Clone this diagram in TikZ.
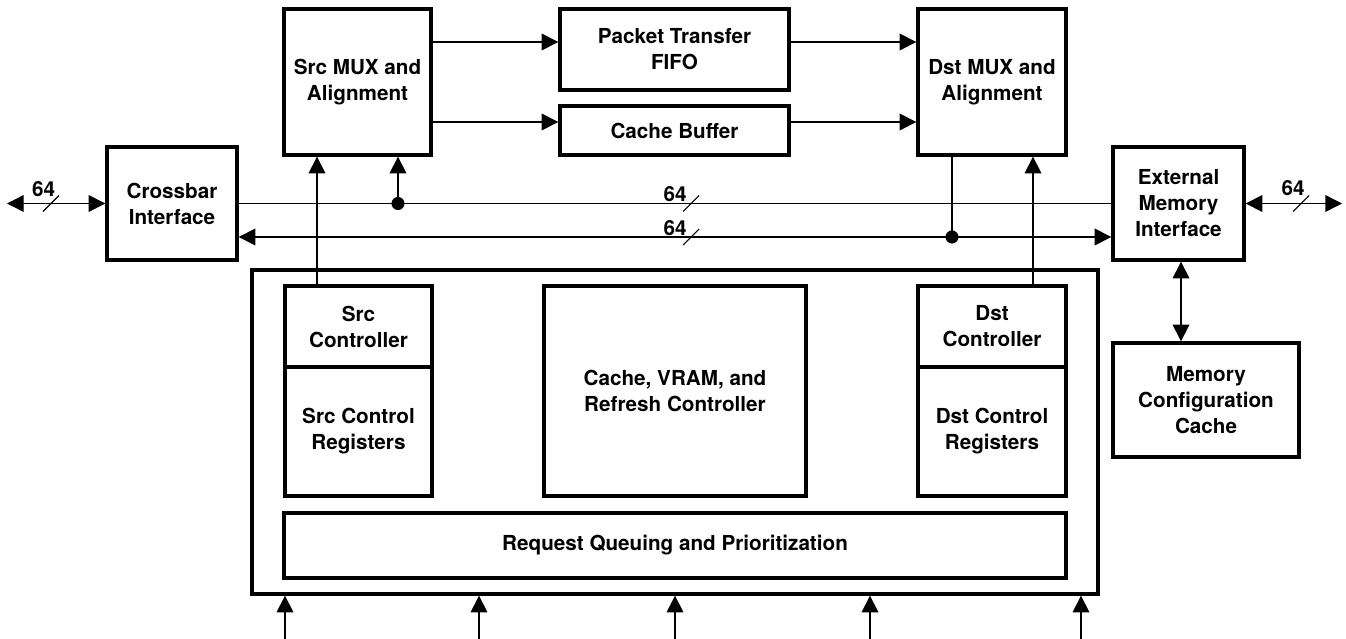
\documentclass[tikz,border=0pt]{standalone}
\usepackage{fontspec}
\setmainfont{TeX Gyre Heros}
\usetikzlibrary{arrows.meta}

% box given by its outline corners (x1,y1) and (x2,y2), in pixel units
\newcommand\mkbox[6]{%
  \node[blk, minimum width={(#4-#2)*0.75pt}, minimum height={(#5-#3)*0.75pt}]
    (#1) at ({(#2+#4)/2},{(#3+#5)/2}) {#6};}

\tikzset{
  blk/.style={draw, line width=2.5pt, inner sep=0pt, align=center,
    font=\fontsize{15.5pt}{19.5pt}\selectfont\bfseries},
  wire/.style={line width=1pt},
  arr/.style={wire, -{Triangle[length=12.5pt,width=12.5pt]}},
  darr/.style={wire, {Triangle[length=12.5pt,width=12.5pt]}-{Triangle[length=12.5pt,width=12.5pt]}},
  buslabel/.style={font=\fontsize{15.5pt}{19.5pt}\selectfont\bfseries, inner sep=0pt},
  slash/.style={line width=0.8pt},
  dot/.style={fill=black},
}

\begin{document}
\begin{tikzpicture}[x=0.75pt, y=-0.75pt]
\useasboundingbox (0,0) rectangle (1346,639);

% top row
\mkbox{srcmux}{284}{9}{431}{155}{Src MUX and\\Alignment}
\mkbox{fifo}{560}{9}{789}{90}{Packet Transfer\\FIFO}
\mkbox{cbuf}{560}{106}{789}{155}{Cache Buffer}
\mkbox{dstmux}{918}{9}{1066}{155}{Dst MUX and\\Alignment}

% interfaces
\mkbox{xbar}{107}{147}{237}{260}{Crossbar\\Interface}
\mkbox{emi}{1113}{147}{1244}{260}{External\\Memory\\Interface}
\mkbox{mcc}{1113}{343}{1299}{457}{Memory\\Configuration\\Cache}

% controller block
\mkbox{big}{252}{270}{1098}{594}{}
\mkbox{srcctl}{285}{286}{432}{367}{Src\\Controller}
\mkbox{srcreg}{285}{367}{432}{496}{Src Control\\Registers}
\mkbox{cvr}{544}{286}{806}{496}{Cache, VRAM, and\\Refresh Controller}
\mkbox{dstctl}{918}{286}{1066}{367}{Dst\\Controller}
\mkbox{dstreg}{918}{367}{1066}{496}{Dst Control\\Registers}
\mkbox{rq}{284}{513}{1066}{578}{Request Queuing and Prioritization}

% helper coordinates
\coordinate (ya) at (0,42);
\coordinate (yb) at (0,122);
\coordinate (lbus) at (0,237);
\coordinate (sx) at (317,0);
\coordinate (dx) at (1033,0);
\coordinate (mx) at (1181,0);
\coordinate (xl) at (7,203.5);
\coordinate (xr) at (1342,203.5);
\coordinate (d1) at (398,203.5);
\coordinate (d2) at (952,237);

% data path through the buffers
\draw[arr] (srcmux.east |- ya) -- (fifo.west |- ya);
\draw[arr] (srcmux.east |- yb) -- (cbuf.west |- yb);
\draw[arr] (fifo.east |- ya) -- (dstmux.west |- ya);
\draw[arr] (cbuf.east |- yb) -- (dstmux.west |- yb);

% external ports
\draw[darr] (xl) -- (xbar.west);
\draw[darr] (emi.east) -- (xr);
\draw[slash] (51,203.5) ++(-8,8) -- ++(16,-16);
\draw[slash] (1301,203.5) ++(-8,8) -- ++(16,-16);
\node[buslabel] (l64a) at (43.5,189) {64};
\node[buslabel] (l64d) at (1293,188) {64};

% internal buses
\draw[wire] (xbar.east) -- (emi.west);
\draw[darr] (xbar.east |- lbus) -- (emi.west |- lbus);
\draw[slash] (691,203.5) ++(-8,8) -- ++(16,-16);
\draw[slash] (691,237) ++(-8,8) -- ++(16,-16);
\node[buslabel] (l64b) at (675,194.5) {64};
\node[buslabel] (l64c) at (675,228) {64};

% bus taps
\fill[dot] (d1) circle[radius=4.9pt];
\draw[arr] (d1) -- (srcmux.south -| d1);
\fill[dot] (d2) circle[radius=4.9pt];
\draw[wire] (dstmux.south -| d2) -- (d2);

% controllers to multiplexers
\draw[arr] (srcctl.north -| sx) -- (srcmux.south -| sx);
\draw[arr] (dstctl.north -| dx) -- (dstmux.south -| dx);

% memory configuration link
\draw[darr] (emi.south -| mx) -- (mcc.north -| mx);

% request inputs
\foreach \x [count=\i] in {285,479,675,870,1081} {
  \coordinate (in\i) at (\x,639);
  \draw[arr] (in\i) -- (big.south -| in\i);
}
\end{tikzpicture}
\end{document}
